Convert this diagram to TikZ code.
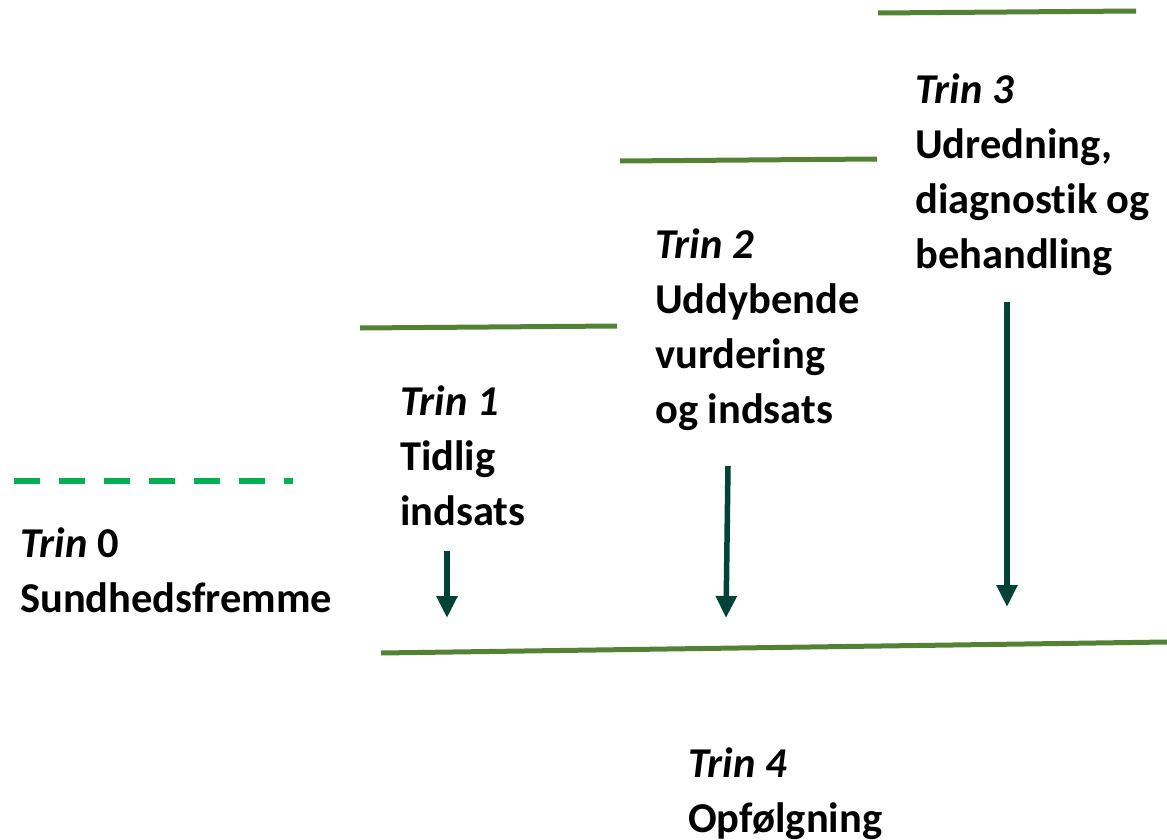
\documentclass[tikz,border=0pt]{standalone}
\usepackage{fontspec}
\setmainfont[Ligatures=NoCommon]{Carlito}
\usetikzlibrary{arrows.meta}
\definecolor{stepgreen}{RGB}{84,130,53}
\definecolor{dashgreen}{RGB}{0,176,80}
\definecolor{arrowgreen}{RGB}{0,66,54}
\begin{document}
\begin{tikzpicture}[x=1pt,y=-1pt,
  stepline/.style={draw=stepgreen,line width=5pt},
  dashline/.style={draw=dashgreen,line width=6pt,dash pattern=on 26pt off 19pt},
  downarrow/.style={draw=arrowgreen,line width=5.5pt,-{Triangle[width=20pt,length=22pt]}},
  label/.style={anchor=base west,inner sep=0pt,align=left,font=\fontsize{42.5}{55}\selectfont\bfseries}]
\useasboundingbox (0,0) rectangle (1167,840);
% step lines
\coordinate (d0a) at (14,481); \coordinate (d0b) at (293,481);
\coordinate (s1a) at (360,328); \coordinate (s1b) at (617,326);
\coordinate (s2a) at (620,161); \coordinate (s2b) at (877,159);
\coordinate (s3a) at (878,13); \coordinate (s3b) at (1136,11);
\coordinate (s4a) at (381,653); \coordinate (s4b) at (1167,642);
\draw[dashline] (d0a) -- (d0b);
\draw[stepline] (s1a) -- (s1b);
\draw[stepline] (s2a) -- (s2b);
\draw[stepline] (s3a) -- (s3b);
\draw[stepline] (s4a) -- (s4b);
% arrows
\coordinate (a1s) at (447,551); \coordinate (a1e) at (447,618);
\coordinate (a2s) at (728,466); \coordinate (a2e) at (726,618);
\coordinate (a3s) at (1007,302); \coordinate (a3e) at (1007,607);
\draw[downarrow] (a1s) -- (a1e);
\draw[downarrow] (a2s) -- (a2e);
\draw[downarrow] (a3s) -- (a3e);
% labels (anchor at baseline of last line)
\node[label] (t0) at (20,612) {\textit{Trin} 0\\Sundhedsfremme};
\node[label] (t1) at (400,525) {\textit{Trin 1}\\Tidlig\\indsats};
\node[label] (t2) at (655,423) {\textit{Trin 2}\\Uddybende\\vurdering\\og indsats};
\node[label] (t3) at (915,268) {\textit{Trin 3}\\Udredning,\\diagnostik og\\behandling};
\node[label] (t4) at (688,832) {\textit{Trin 4}\\Opfølgning};
\end{tikzpicture}
\end{document}
